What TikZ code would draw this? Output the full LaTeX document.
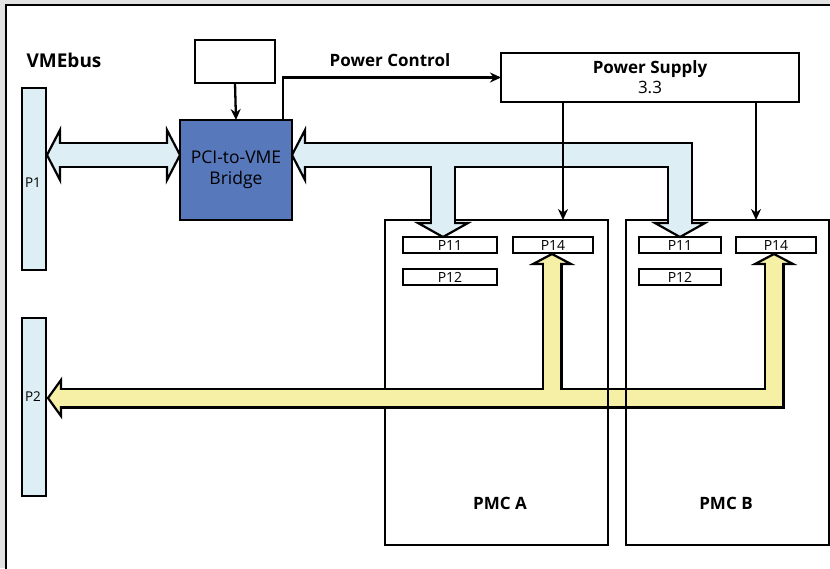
\documentclass[tikz,border=0pt]{standalone}
\usepackage{fontspec}
\setmainfont{Open Sans}
\usetikzlibrary{arrows.meta,calc}
\definecolor{busblue}{RGB}{221,239,245}
\definecolor{bridgeblue}{RGB}{88,120,188}
\definecolor{busyellow}{RGB}{245,240,166}
\definecolor{bggray}{RGB}{226,226,226}
\begin{document}
\begin{tikzpicture}[x=1pt,y=-1pt,
  box/.style={draw=black,line width=2.8pt,inner sep=0pt,outer sep=0pt,fill=white},
  bar/.style={draw=black,line width=2.6pt,inner sep=0pt,fill=busblue,minimum width=24pt},
  conn/.style={draw=black,line width=2.5pt,inner sep=0pt,fill=white,minimum height=16pt,font=\fontsize{14}{15}\selectfont},
  lbl/.style={font=\fontsize{17}{19}\selectfont\bfseries,inner sep=0pt},
  sig/.style={line width=2.3pt,-{Stealth[length=11pt,width=10pt]}},
  boxedge/.style={line width=2.8pt,draw=black},
  bout/.style={line width=26.5pt,draw=black,line join=miter},
  bin/.style={line width=22pt,draw=busblue,line join=miter},
  yout/.style={line width=21pt,draw=black,line join=miter},
  yin/.style={line width=16.5pt,draw=busyellow,line join=miter},
  bhead/.style={fill=busblue,draw=black,line width=2.2pt,line join=miter},
  yhead/.style={fill=busyellow,draw=black,line width=2.2pt,line join=miter}
]
\useasboundingbox (0,0) rectangle (830,568);
\clip (0,0) rectangle (830,568);
\fill[bggray] (0,0) rectangle (830,568);
\draw[fill=white,line width=2.6pt] (6,5) rectangle (900,640);

% boxes
\node[bar,minimum height=182pt] (p1) at (34,179) {};
\node[bar,minimum height=178pt] (p2) at (34,407) {};
\node[box,minimum width=80pt,minimum height=43pt] (cfg) at (235,61.5) {};
\node[box,fill=bridgeblue,minimum width=112pt,minimum height=100pt,align=center,
      font=\fontsize{17.5}{21}\selectfont] (bridge) at (236,170) {PCI-to-VME\\Bridge};
\node[box,minimum width=298pt,minimum height=49pt,align=center,
      font=\fontsize{17}{20}\selectfont] (ps) at (650,77.5) {\textbf{Power Supply}\\3.3};
\node[box,minimum width=223pt,minimum height=325pt] (pmcA) at (496.5,382.5) {};
\node[box,minimum width=203pt,minimum height=325pt] (pmcB) at (727.5,382.5) {};
\node[conn,minimum width=94pt] (p11a) at (450,245) {P11};
\node[conn,minimum width=80pt] (p14a) at (553,245) {P14};
\node[conn,minimum width=94pt] (p12a) at (450,277) {P12};
\node[conn,minimum width=82pt] (p11b) at (680,245) {P11};
\node[conn,minimum width=80pt] (p14b) at (776,245) {P14};
\node[conn,minimum width=82pt] (p12b) at (680,277) {P12};

% bus coordinates
\coordinate (lb1) at (57,155);
\coordinate (lb2) at (170,155);
\coordinate (rb1) at (302,155);
\coordinate (rbc) at (680,155);
\coordinate (rbB) at (680,226);
\coordinate (rbj) at (443,155);
\coordinate (rbA) at (443,226);
\coordinate (yA1) at (552,262);
\coordinate (yAj) at (552,398);
\coordinate (yB1) at (774,262);
\coordinate (yBc) at (774,398);
\coordinate (yP) at (57,398);

% outlines of buses
\draw[bout] (60,155) -- (167,155);
\draw[bout] (305,155) -- (rbc) -- (680,223);
\draw[bout] (rbj) -- (443,223);
\draw[yout] (yB1) -- (yBc) -- (60,398);
\draw[yout] (yA1) -- (yAj);

% heads
\draw[bhead] (47,155) -- (60,130) -- (60,180) -- cycle;
\draw[bhead] (180,155) -- (167,130) -- (167,180) -- cycle;
\draw[bhead] (292,155) -- (305,130) -- (305,180) -- cycle;
\draw[bhead] (443,237) -- (418,223) -- (468,223) -- cycle;
\draw[bhead] (680,237) -- (655,223) -- (705,223) -- cycle;
\draw[yhead] (552,254) -- (533,264) -- (571,264) -- cycle;
\draw[yhead] (774,254) -- (755,264) -- (793,264) -- cycle;
\draw[yhead] (48,398) -- (61,380) -- (61,416) -- cycle;

% fills of buses
\draw[bin] (lb1) -- (lb2);
\draw[bin] (rb1) -- (rbc) -- (rbB);
\draw[bin] (rbj) -- (rbA);
\draw[yin] (yB1) -- (yBc) -- (yP);
\draw[yin] (yA1) -- (yAj);

% box edges showing over the yellow bus
\draw[boxedge] (pmcA.north east) -- (pmcA.south east);
\draw[boxedge] (pmcB.north west) -- (pmcB.south west);

% signals
\draw[sig] (cfg.south) -- (bridge.north);
\draw[sig] ([xshift=-9pt]bridge.north east) |- (ps.west);
\draw[sig] ([xshift=62pt]ps.south west) -- ([xshift=62pt]ps.south west |- pmcA.north);
\draw[sig] ([xshift=255pt]ps.south west) -- ([xshift=255pt]ps.south west |- pmcB.north);

% labels
\node[lbl,font=\fontsize{19}{21}\selectfont\bfseries] (vme) at (64,60) {VMEbus};
\node[lbl] (pc) at (390,60) {Power Control};
\node[lbl] (pa) at (500,503) {PMC A};
\node[lbl] (pb) at (726,503) {PMC B};
\node[inner sep=0pt,font=\fontsize{13.5}{15}\selectfont] (p1l) at (33,183) {P1};
\node[inner sep=0pt,font=\fontsize{13.5}{15}\selectfont] (p2l) at (33,397) {P2};
\end{tikzpicture}
\end{document}
